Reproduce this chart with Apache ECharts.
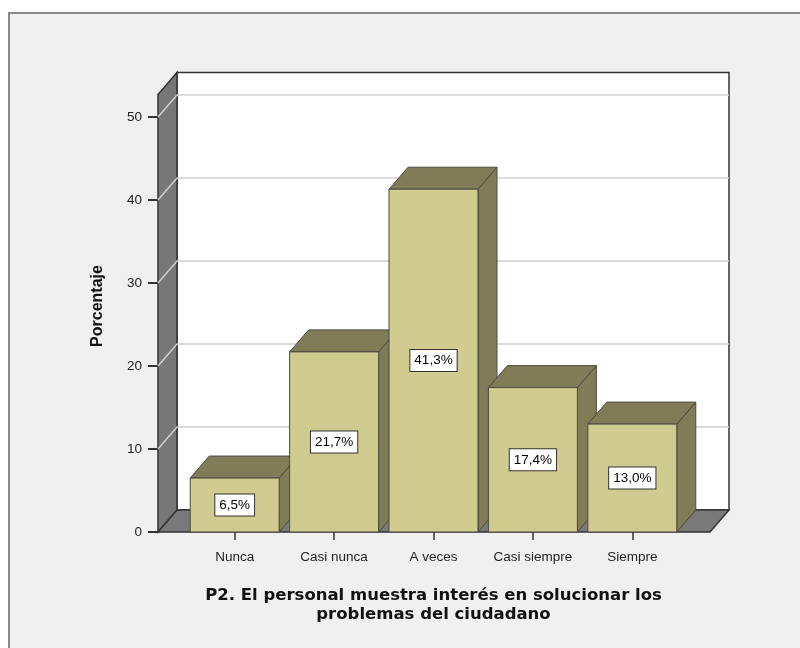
<!DOCTYPE html>
<html>
<head>
<meta charset="utf-8">
<style>
  html, body { margin: 0; padding: 0; background: #ffffff; }
  #chart { width: 800px; height: 648px; }
</style>
<script src="https://cdn.jsdelivr.net/npm/echarts@6/dist/echarts.min.js"></script>
</head>
<body>
<div id="chart"></div>
<script>
// Response categories and their share of answers (%)
const categories = ['Nunca', 'Casi nunca', 'A veces', 'Casi siempre', 'Siempre'];
const percentages = [6.5, 21.7, 41.3, 17.4, 13.0];

// Value axis range and tick step
const yMin = 0;
const yMax = 50;
const yStep = 10;
const gridValues = [10, 20, 30, 40, 50];

// Axis titles
const yTitle = 'Porcentaje';
const xTitle = 'P2. El personal muestra interés en solucionar los\nproblemas del ciudadano';

// 3D look: depth offset of the box and how high the walls rise
const DX = 19, DY = -22;
const WALL_TOP = 52.7;
const SIDE_PAD_L = 27, SIDE_PAD_R = 28;

const FACE = '#d0cb8f';
const SHADE = '#807c57';
const EDGE = '#4a4a40';
const SANS = '"Liberation Sans", Arial, sans-serif';

function fmt(v) {
  return v.toFixed(1).replace('.', ',') + '%';
}

// Walls, floor and gridlines of the 3D box
function renderBox(params, api) {
  const cs = params.coordSys;
  const xl = cs.x - SIDE_PAD_L;
  const xr = cs.x + cs.width + SIDE_PAD_R;
  const y0 = api.coord([0, 0])[1];
  const yTop = api.coord([0, WALL_TOP])[1];
  const children = [];
  // back wall
  children.push({
    type: 'polygon',
    shape: { points: [[xl + DX, yTop + DY], [xr + DX, yTop + DY], [xr + DX, y0 + DY], [xl + DX, y0 + DY]] },
    style: { fill: '#ffffff', stroke: '#333333', lineWidth: 1.5 }
  });
  // side wall
  children.push({
    type: 'polygon',
    shape: { points: [[xl, yTop], [xl + DX, yTop + DY], [xl + DX, y0 + DY], [xl, y0]] },
    style: { fill: '#777777', stroke: '#333333', lineWidth: 1.5 }
  });
  // gridlines across the side wall and back wall
  gridValues.forEach(function (v) {
    const y = api.coord([0, v])[1];
    children.push({
      type: 'polyline',
      shape: { points: [[xl, y], [xl + DX, y + DY], [xr + DX, y + DY]] },
      style: { stroke: '#cfcfcf', lineWidth: 1.5, fill: null }
    });
  });
  // floor
  children.push({
    type: 'polygon',
    shape: { points: [[xl, y0], [xr, y0], [xr + DX, y0 + DY], [xl + DX, y0 + DY]] },
    style: { fill: '#7a7a7a', stroke: '#333333', lineWidth: 1.5 }
  });
  return { type: 'group', children: children };
}

// One 3D bar with its value label
function renderBar(params, api) {
  const idx = api.value(0);
  const val = api.value(1);
  const base = api.coord([idx, 0]);
  const top = api.coord([idx, val]);
  const bw = api.size([1, 0])[0] * 0.895;
  const x0 = base[0] - bw / 2, x1 = base[0] + bw / 2;
  const y0 = base[1], yt = top[1];
  return {
    type: 'group',
    children: [
      {
        type: 'polygon',
        shape: { points: [[x1, yt], [x1 + DX, yt + DY], [x1 + DX, y0 + DY], [x1, y0]] },
        style: { fill: SHADE, stroke: EDGE, lineWidth: 1 }
      },
      {
        type: 'polygon',
        shape: { points: [[x0, yt], [x0 + DX, yt + DY], [x1 + DX, yt + DY], [x1, yt]] },
        style: { fill: SHADE, stroke: EDGE, lineWidth: 1 }
      },
      {
        type: 'rect',
        shape: { x: x0, y: yt, width: bw, height: y0 - yt },
        style: { fill: FACE, stroke: EDGE, lineWidth: 1 }
      },
      {
        type: 'text',
        x: base[0],
        y: (y0 + yt) / 2,
        style: {
          text: fmt(val),
          font: '13.5px ' + SANS,
          fill: '#000000',
          align: 'center',
          verticalAlign: 'middle',
          backgroundColor: '#ffffff',
          borderColor: '#333333',
          borderWidth: 1,
          padding: [4, 4, 3, 4]
        }
      }
    ]
  };
}

const chart = echarts.init(document.getElementById('chart'), null, { renderer: 'canvas' });

chart.setOption({
  animation: false,
  backgroundColor: '#ffffff',
  graphic: [
    {
      type: 'rect',
      z: -10,
      shape: { x: 9, y: 13, width: 800, height: 650 },
      style: { fill: '#f0f0f0', stroke: '#8a8a8a', lineWidth: 2 }
    },
    {
      type: 'text',
      x: 98,
      y: 306,
      rotation: Math.PI / 2,
      style: {
        text: yTitle,
        font: 'bold 16px ' + SANS,
        fill: '#111111',
        align: 'center',
        verticalAlign: 'middle'
      }
    }
  ],
  grid: { left: 185, right: 118, top: 117, bottom: 116 },
  xAxis: {
    type: 'category',
    data: categories,
    boundaryGap: true,
    axisLine: { show: false },
    axisTick: { show: true, interval: 0, alignWithLabel: true, length: 8, lineStyle: { color: '#333333', width: 1.5 } },
    axisLabel: { interval: 0, hideOverlap: false, margin: 18, color: '#222222', fontSize: 13.5, fontFamily: SANS },
    splitLine: { show: false },
    name: xTitle,
    nameLocation: 'middle',
    nameGap: 54,
    nameTextStyle: { color: '#111111', fontSize: 16.5, fontWeight: 'bold', fontFamily: '"DejaVu Sans", sans-serif', lineHeight: 19, align: 'center' }
  },
  yAxis: {
    type: 'value',
    min: yMin,
    max: yMax,
    interval: yStep,
    offset: SIDE_PAD_L,
    axisLine: { show: false },
    axisTick: { show: true, length: 10, lineStyle: { color: '#333333', width: 2 } },
    axisLabel: { margin: 16, color: '#222222', fontSize: 13.5, fontFamily: SANS },
    splitLine: { show: false }
  },
  series: [
    {
      type: 'custom',
      renderItem: renderBox,
      data: [[0, 0]],
      silent: true
    },
    {
      type: 'custom',
      renderItem: renderBar,
      data: percentages.map(function (v, i) { return [i, v]; })
    }
  ]
});
</script>
</body>
</html>
